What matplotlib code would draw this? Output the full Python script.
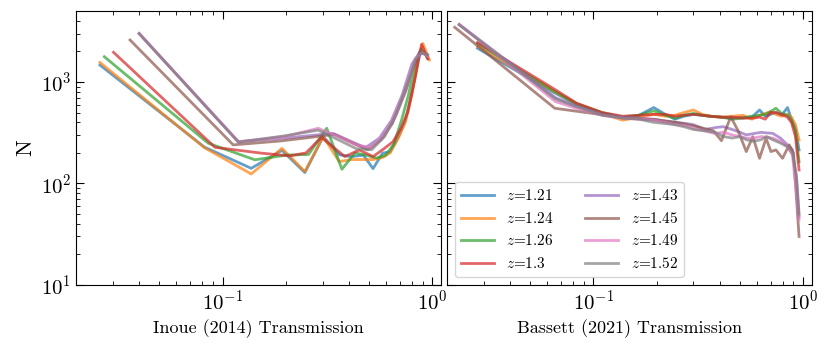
import matplotlib
matplotlib.use('Agg')
import matplotlib.pyplot as plt
import numpy as np

plt.rcParams['font.family'] = 'serif'
plt.rcParams['font.serif'] = ['cmr10', 'DejaVu Serif']
plt.rcParams['mathtext.fontset'] = 'cm'
plt.rcParams['axes.formatter.use_mathtext'] = True
plt.rcParams['axes.unicode_minus'] = False

redshifts = ['1.21', '1.24', '1.26', '1.3', '1.43', '1.45', '1.49', '1.52']

## Inoue (2014) transmission histograms
inoue_x = [
    [0.026, 0.082, 0.137, 0.192, 0.247, 0.302, 0.36, 0.41, 0.47, 0.522, 0.58, 0.63, 0.69, 0.745, 0.80, 0.87, 0.91, 0.955],
    [0.026, 0.082, 0.137, 0.192, 0.247, 0.302, 0.36, 0.41, 0.47, 0.522, 0.58, 0.63, 0.69, 0.745, 0.80, 0.855, 0.903, 0.97],
    [0.0273, 0.0855, 0.1426, 0.2, 0.257, 0.314, 0.371, 0.428, 0.485, 0.542, 0.6, 0.657, 0.714, 0.771, 0.828, 0.885, 0.942],
    [0.0302, 0.092, 0.153, 0.209, 0.25, 0.296, 0.383, 0.45, 0.522, 0.58, 0.65, 0.71, 0.766, 0.83, 0.89, 0.95],
    [0.040, 0.119, 0.198, 0.277, 0.336, 0.41, 0.48, 0.56, 0.64, 0.72, 0.8, 0.87, 0.94],
    [0.0362, 0.1124, 0.188, 0.265, 0.341, 0.417, 0.493, 0.57, 0.646, 0.722, 0.798, 0.874, 0.95],
    [0.040, 0.119, 0.198, 0.286, 0.356, 0.435, 0.514, 0.593, 0.672, 0.751, 0.83, 0.895, 0.95],
    [0.040, 0.119, 0.198, 0.286, 0.356, 0.435, 0.514, 0.593, 0.672, 0.751, 0.83, 0.895, 0.95],
]
inoue_y = [
    [1470, 228, 141, 212, 128, 290, 192, 184, 190, 140, 199, 205, 290, 420, 800, 1900, 2000, 1700],
    [1560, 225, 124, 222, 131, 289, 164, 172, 172, 172, 180, 200, 280, 400, 750, 1700, 2400, 1650],
    [1775, 249, 171, 190, 193, 350, 138, 200, 190, 178, 190, 245, 420, 750, 1500, 2100, 1800],
    [1962, 227, 199, 187, 200, 285, 184, 214, 184, 215, 258, 350, 510, 1100, 2350, 1700],
    [3000, 258, 280, 300, 312, 260, 225, 280, 420, 750, 1500, 1950, 1850],
    [2596, 240, 262, 285, 305, 250, 215, 270, 390, 700, 1250, 2000, 1850],
    [3020, 258, 290, 350, 290, 240, 225, 300, 480, 850, 1700, 1950, 1800],
    [3000, 255, 295, 335, 270, 220, 215, 290, 470, 830, 1650, 1950, 1850],
]

## Bassett (2021) transmission histograms
bassett_x_hi = [0.028, 0.064, 0.083, 0.11, 0.138, 0.165, 0.194, 0.22, 0.245, 0.27, 0.30, 0.33, 0.36,
                0.41, 0.46, 0.517, 0.57, 0.62, 0.66, 0.70, 0.742, 0.79, 0.843, 0.88, 0.92, 0.957]
bassett_x_lo = [0.0229, 0.066, 0.083, 0.11, 0.138, 0.165, 0.194, 0.22, 0.245, 0.274, 0.30, 0.34, 0.38,
                0.416, 0.46, 0.50, 0.536, 0.58, 0.631, 0.67, 0.716, 0.78, 0.843, 0.89, 0.93, 0.957]
bassett_x_brown = [0.0218, 0.0654, 0.148, 0.2, 0.25, 0.317, 0.373, 0.408, 0.452, 0.49, 0.536, 0.576,
                   0.62, 0.666, 0.703, 0.742, 0.798, 0.859, 0.9, 0.957]
bassett_y = [
    [2150, 800, 600, 490, 440, 470, 560, 480, 430, 460, 480, 470, 460, 450, 440, 450, 450, 530, 460, 480, 500, 470, 560, 430, 350, 214],
    [2250, 820, 610, 490, 420, 450, 480, 460, 470, 500, 530, 480, 460, 450, 460, 470, 430, 470, 490, 510, 480, 460, 480, 450, 380, 268],
    [2400, 830, 610, 500, 450, 470, 520, 470, 440, 470, 490, 470, 460, 450, 430, 440, 460, 470, 480, 510, 551, 490, 470, 420, 330, 164],
    [2450, 870, 620, 500, 460, 470, 480, 480, 460, 470, 480, 470, 460, 450, 450, 440, 440, 450, 430, 500, 500, 480, 450, 400, 290, 136],
    [3700, 700, 580, 480, 450, 440, 430, 410, 400, 391, 380, 340, 355, 363, 340, 320, 301, 310, 319, 315, 312, 280, 240, 214, 110, 47],
    [3460, 551, 438, 425, 400, 360, 331, 264, 455, 330, 206, 289, 177, 278, 206, 214, 177, 240, 200, 30],
    [3700, 640, 550, 470, 440, 430, 420, 400, 380, 370, 350, 330, 310, 320, 300, 290, 280, 280, 290, 285, 280, 260, 230, 190, 80, 44],
    [3650, 680, 570, 470, 440, 430, 400, 390, 380, 360, 340, 330, 320, 290, 280, 290, 270, 260, 270, 290, 270, 250, 230, 200, 120, 50],
]
bassett_x = [bassett_x_hi] * 4 + [bassett_x_lo, bassett_x_brown, bassett_x_lo, bassett_x_lo]

colors = plt.rcParams['axes.prop_cycle'].by_key()['color']

fig, axes = plt.subplots(1, 2, figsize=(8.3, 3.47), dpi=100, sharey=True)
fig.subplots_adjust(left=0.0916, right=0.978, top=0.968, bottom=0.179, wspace=0.0165)

for i, z in enumerate(redshifts):
    axes[0].plot(inoue_x[i], inoue_y[i], color=colors[i], lw=2, alpha=0.7, label='$z$=' + z)
    axes[1].plot(bassett_x[i], bassett_y[i], color=colors[i], lw=2, alpha=0.7, label='$z$=' + z)

for ax in axes:
    ax.set_xscale('log')
    ax.set_yscale('log')
    ax.set_xlim(0.02, 1.1)
    ax.set_ylim(10, 5000)
    ax.tick_params(which='both', direction='in', top=True, right=True, labelsize=15)
    ax.tick_params(which='major', length=6)
    ax.tick_params(which='minor', length=3)

axes[0].set_ylabel('N', fontsize=16)
axes[0].set_xlabel('Inoue (2014) Transmission', fontsize=13)
axes[1].set_xlabel('Bassett (2021) Transmission', fontsize=13)
axes[1].tick_params(labelleft=False)
axes[1].legend(loc='lower left', ncol=2, fontsize=11, handlelength=2.2)

fig.savefig('out.png')
